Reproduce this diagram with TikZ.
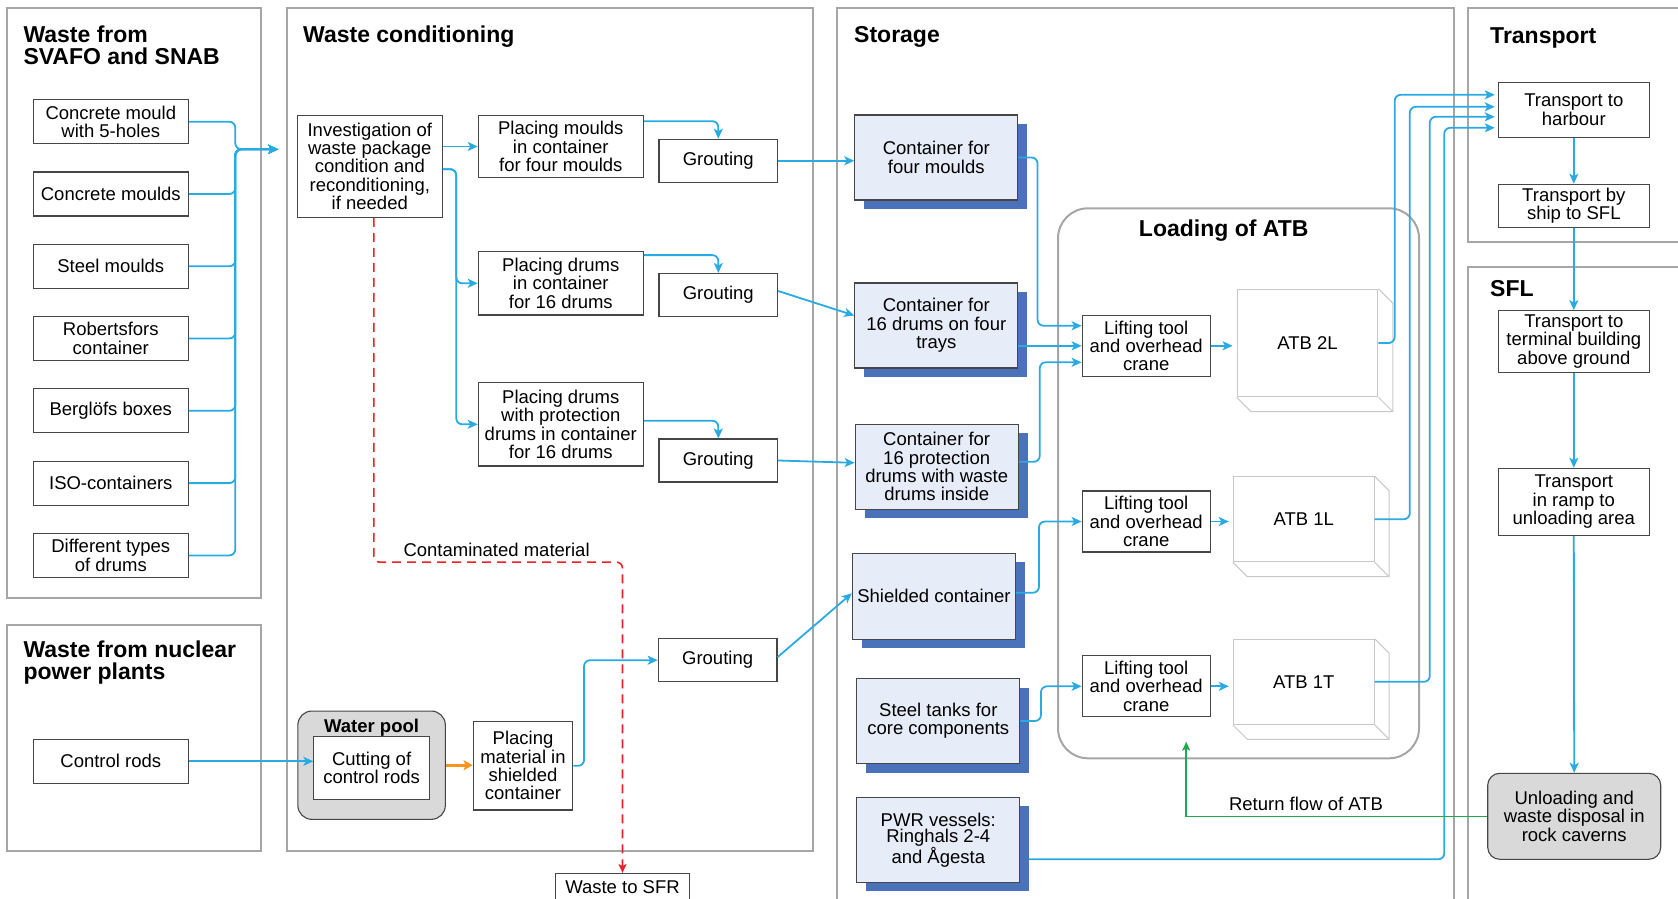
\documentclass[tikz,border=0pt]{standalone}
\usepackage{fontspec}
\setmainfont{Liberation Sans}
\usetikzlibrary{positioning, arrows.meta, shadows}

\definecolor{flowblue}{RGB}{41,170,226}
\definecolor{framegray}{RGB}{166,166,166}
\definecolor{boxgray}{RGB}{70,70,70}
\definecolor{storefill}{RGB}{230,236,248}
\definecolor{shadowblue}{RGB}{74,114,186}
\definecolor{poolgray}{RGB}{217,217,217}
\definecolor{contamred}{RGB}{232,35,40}
\definecolor{cutorange}{RGB}{247,148,29}
\definecolor{returngreen}{RGB}{30,168,80}
\definecolor{atbgray}{RGB}{200,200,200}

\newcommand{\flowtext}{\fontsize{18.5}{18.3}\selectfont}
\newcommand{\pwrtext}{\fontsize{18.5}{16}\selectfont}
\newcommand{\paneltitle}{\fontsize{23}{22.3}\selectfont\bfseries}

\begin{document}
\begin{tikzpicture}[x=1pt, y=-1pt,
    panel/.style={draw=framegray, line width=2pt},
    head/.style={anchor=base west, align=left, inner sep=0pt, font=\paneltitle},
    proc/.style={draw=boxgray, line width=1.1pt, fill=white, align=center, inner sep=0pt, font=\flowtext},
    srcbox/.style={proc, minimum width=155pt, minimum height=44pt},
    place/.style={proc, minimum width=165pt},
    grout/.style={proc, minimum width=118.7pt, minimum height=43pt},
    store/.style={proc, fill=storefill, minimum width=163pt, minimum height=85pt,
        general shadow={fill=shadowblue, shadow xshift=9.5pt, shadow yshift=-9pt}},
    lift/.style={proc, minimum width=128pt, minimum height=61pt},
    atb/.style={draw=atbgray, line width=1pt, fill=white, inner sep=0pt, minimum width=140.8pt, font=\flowtext},
    atbedge/.style={draw=atbgray, line width=1pt},
    trans/.style={proc, minimum width=151pt},
    label/.style={anchor=base, inner sep=0pt, font=\flowtext},
    flow/.style={draw=flowblue, line width=1.8pt, rounded corners=6pt, -{Stealth[length=10pt, width=9pt, inset=2.5pt]}},
    contam/.style={draw=contamred, line width=1.6pt, dash pattern=on 9pt off 6pt, rounded corners=6pt, -{Stealth[length=9pt, width=8pt, inset=2pt]}},
    feed/.style={draw=cutorange, line width=2.6pt, -{Stealth[length=9pt, width=10pt, inset=2pt]}},
    returnflow/.style={draw=returngreen, line width=1.5pt, -{Stealth[length=9pt, width=8pt, inset=2pt]}}]
    \useasboundingbox (0,0) rectangle (1678,899);
    \clip (0,0) rectangle (1678,899);

    % panels
    \draw[panel] (7.3,8.3) rectangle (261,598);
    \draw[panel] (7.3,624.7) rectangle (261,850.9);
    \draw[panel] (287.3,8.3) rectangle (812.9,850.7);
    \draw[panel] (837.2,8.3) rectangle (1454,910);
    \draw[panel] (1468.3,8.3) rectangle (1690,241.7);
    \draw[panel] (1468.3,266.7) rectangle (1690,910);
    \draw[panel, rounded corners=30pt] (1058,208.3) rectangle (1419,758.3);

    \node[head] (tsvafo) at (23.3,65) {Waste from\\SVAFO and SNAB};
    \node[head] (tnpp) at (23.3,679.5) {Waste from nuclear\\power plants};
    \node[head] (tcond) at (303,42.8) {Waste conditioning};
    \node[head] (tstore) at (854,42.8) {Storage};
    \node[head] (ttrans) at (1490,43.3) {Transport};
    \node[head] (tsfl) at (1490,296) {SFL};
    \node[head, anchor=base] (tload) at (1223.7,236.7) {Loading of ATB};

    % waste from SVAFO and SNAB
    \node[srcbox] (mould5) at (110.8,121.7) {Concrete mould\\with 5-holes};
    \node[srcbox] (cmould) at (110.8,194) {Concrete moulds};
    \node[srcbox] (smould) at (110.8,266.3) {Steel moulds};
    \node[srcbox] (robert) at (110.8,338.5) {Robertsfors\\container};
    \node[srcbox] (berg) at (110.8,410.8) {Berglöfs boxes};
    \node[srcbox] (iso) at (110.8,483.1) {ISO-containers};
    \node[srcbox] (drums) at (110.8,555.4) {Different types\\of drums};
    \node[srcbox] (rods) at (110.8,761.3) {Control rods};

    % waste conditioning
    \node[proc, minimum width=145pt, minimum height=102pt] (inv) at (369.8,166.2)
        {Investigation of\\waste package\\condition and\\reconditioning,\\if needed};
    \node[place, minimum height=61.6pt] (pmould) at (560.8,146.5) {Placing moulds\\in container\\for four moulds};
    \node[place, minimum height=63.3pt] (pdrum) at (560.8,283.3) {Placing drums\\in container\\for 16 drums};
    \node[place, minimum height=83.3pt] (pprot) at (560.8,424.3) {Placing drums\\with protection\\drums in container\\for 16 drums};
    \node[grout] (grout1) at (718.3,160.8) {Grouting};
    \node[grout] (grout2) at (718.3,295) {Grouting};
    \node[grout] (grout3) at (718.3,460.5) {Grouting};
    \node[grout] (grout4) at (717.6,660.2) {Grouting};
    \node[proc, fill=poolgray, rounded corners=14pt, minimum width=147.5pt, minimum height=108.3pt] (pool) at (371.6,765.2) {};
    \node[label, font=\flowtext\bfseries] (pooltitle) at (371.6,732.3) {Water pool};
    \node[proc, minimum width=115.4pt, minimum height=62.6pt] (cut) at (371.6,768) {Cutting of\\control rods};
    \node[proc, minimum width=99.7pt, minimum height=88.3pt] (pmat) at (523,765.8) {Placing\\material in\\shielded\\container};
    \node[proc, minimum width=133.6pt, minimum height=28pt] (sfr) at (622.5,887.5) {Waste to SFR};
    \node[label] (contlabel) at (496.6,556) {Contaminated material};

    % storage
    \node[store] (cfour) at (936.3,157.5) {Container for\\four moulds};
    \node[store] (csixteen) at (936.3,325.5) {Container for\\16 drums on four\\trays};
    \node[store] (cprot) at (936.7,466.8) {Container for\\16 protection\\drums with waste\\drums inside};
    \node[store, minimum height=86pt] (shield) at (933.9,596.3) {Shielded container};
    \node[store] (steel) at (938.3,721) {Steel tanks for\\core components};
    \node[store, font=\pwrtext] (pwr) at (938.3,839.8) {PWR vessels:\\Ringhals 2-4\\and Ågesta};

    % loading of ATB
    \node[lift] (lift1) at (1146.2,345.8) {Lifting tool\\and overhead\\crane};
    \node[lift] (lift2) at (1146.2,521.5) {Lifting tool\\and overhead\\crane};
    \node[lift] (lift3) at (1146.2,686.3) {Lifting tool\\and overhead\\crane};
    \node[atb, minimum height=107.4pt] (atb2l) at (1307.5,343) {ATB 2L};
    \node[atb, minimum height=85pt] (atb1l) at (1303.7,519.2) {ATB 1L};
    \node[atb, minimum height=85pt] (atb1t) at (1303.7,681.8) {ATB 1T};
    \draw[atbedge] (atb2l.south west) -- ++(14.5,14.5) -| ([shift={(14.5,14.5)}]atb2l.north east) -- (atb2l.north east);
    \draw[atbedge] (atb2l.south east) -- ++(14.5,14.5);
    \draw[atbedge] (atb1l.south west) -- ++(14.5,14.5) -| ([shift={(14.5,14.5)}]atb1l.north east) -- (atb1l.north east);
    \draw[atbedge] (atb1l.south east) -- ++(14.5,14.5);
    \draw[atbedge] (atb1t.south west) -- ++(14.5,14.5) -| ([shift={(14.5,14.5)}]atb1t.north east) -- (atb1t.north east);
    \draw[atbedge] (atb1t.south east) -- ++(14.5,14.5);

    % transport and SFL
    \node[trans, minimum height=55pt] (harbour) at (1573.8,109.8) {Transport to\\harbour};
    \node[trans, minimum height=43pt] (ship) at (1573.8,205.8) {Transport by\\ship to SFL};
    \node[trans, minimum height=61.6pt] (terminal) at (1573.8,341.5) {Transport to\\terminal building\\above ground};
    \node[trans, minimum height=67pt] (ramp) at (1573.8,501.8) {Transport\\in ramp to\\unloading area};
    \node[proc, fill=poolgray, rounded corners=12pt, minimum width=173pt, minimum height=86pt] (unload) at (1574.2,816.3)
        {Unloading and\\waste disposal in\\rock caverns};
    \node[label] (retlabel) at (1306,810) {Return flow of ATB};

    % connectors
    \coordinate (bus) at (235.3,149.3);
    \coordinate (busend) at (278.3,149.3);
    \draw[flow] (mould5.east) -| (bus) -- (busend);
    \draw[flow] (cmould.east) -| (bus) -- (busend);
    \draw[flow] (smould.east) -| (bus) -- (busend);
    \draw[flow] (robert.east) -| (bus) -- (busend);
    \draw[flow] (berg.east) -| (bus) -- (busend);
    \draw[flow] (iso.east) -| (bus) -- (busend);
    \draw[flow] (drums.east) -| (bus) -- (busend);
    \draw[flow] (rods.east) -- (rods.east -| cut.west);

    \draw[flow] (inv.east |- pmould.west) -- (pmould.west);
    \draw[flow] ([yshift=-3pt]inv.east) -- ++(13.4,0) |- (pdrum.west);
    \draw[flow] ([yshift=-3pt]inv.east) -- ++(13.4,0) |- (pprot.west);
    \draw[flow] ([yshift=-6pt]pmould.north east) -| (grout1.north);
    \draw[flow] ([yshift=-4pt]pdrum.north east) -| (grout2.north);
    \draw[flow] ([yshift=3.6pt]pprot.east) -| (grout3.north);
    \draw[feed] (pool.east) -- (pool.east -| pmat.west);
    \draw[flow] (pmat.east) -- ++(10.7,0) |- (grout4.west);
    \draw[contam] ([xshift=4pt]inv.south) -- ++(0,344.4) -| (sfr.north);

    \draw[flow] (grout1.east) -- (grout1.east -| cfour.west);
    \draw[flow] ([yshift=4pt]grout2.east) -- ([yshift=10pt]csixteen.west);
    \draw[flow] (grout3.east) -- ([yshift=4pt]cprot.west);
    \draw[flow] ([yshift=3pt]grout4.east) -- ([yshift=3pt]shield.west);

    \draw[flow] (cfour.east) -- ++(19.2,0) |- ([yshift=-11pt]lift1.north west);
    \draw[flow] (lift1.west -| csixteen.east) -- (lift1.west);
    \draw[flow] ([yshift=5pt]cprot.east) -- ++(21,0) |- ([yshift=-16.5pt]lift1.west);
    \draw[flow] ([yshift=3.6pt]shield.east) -- ++(23,0) |- (lift2.west);
    \draw[flow] (steel.east) -- ++(20.6,0) |- (lift3.west);
    \draw[flow, shorten >=4pt] (lift1.east) -- (lift1.east -| atb2l.west);
    \draw[flow, shorten >=4pt] (lift2.east) -- (lift2.east -| atb1l.west);
    \draw[flow, shorten >=4pt] (lift3.east) -- (lift3.east -| atb1t.west);

    \draw[flow, shorten >=3pt] (atb2l.east) -- ++(16.3,0) |- ([yshift=15pt]harbour.west);
    \draw[flow, shorten >=3pt] (atb1l.east) -- ++(35.2,0) |- ([yshift=3pt]harbour.west);
    \draw[flow, shorten >=3pt] (atb1t.east) -- ++(55.2,0) |- ([yshift=-7pt]harbour.west);
    \draw[flow, shorten >=3pt] ([shift={(8.5pt,-19.5pt)}]pwr.east) -- ++(415.4,0) |- ([yshift=-18pt]harbour.west);

    \draw[flow] (harbour.south) -- (ship.north);
    \draw[flow] (ship.south) -- (terminal.north);
    \draw[flow] (terminal.south) -- (ramp.north);
    \draw[flow] (ramp.south) -- (unload.north);
    \coordinate (retend) at (1186.2,741.7);
    \draw[returnflow] (unload.west) -| (retend);
\end{tikzpicture}
\end{document}
